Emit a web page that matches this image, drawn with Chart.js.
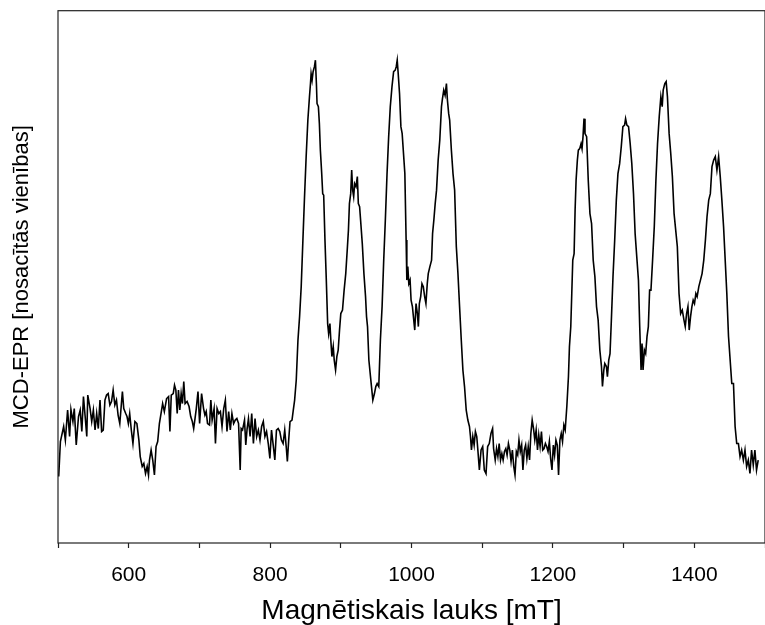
<!DOCTYPE html>
<html lang="lv">
<head>
<meta charset="UTF-8">
<title>MCD-EPR spektrs</title>
<script src="https://cdn.jsdelivr.net/npm/chart.js@4.4.4/dist/chart.umd.js"></script>
<style>
  html, body { margin: 0; padding: 0; overflow: hidden; background: #fff; }
</style>
</head>
<body>
<canvas id="myChart" width="780" height="625"></canvas>
<script>
// magnētiskais lauks, mT (nolasīts no attēla)
const fieldMT = [
  501.0, 503.4, 508.0, 510.4, 513.6, 516.4, 518.3, 521.1, 523.0, 525.8,
  529.0, 531.4, 533.7, 536.0, 538.4, 540.7, 542.1, 545.4, 547.7, 550.0,
  552.4, 554.7, 557.0, 559.4, 561.7, 564.0, 566.4, 568.7, 571.0, 573.4,
  575.7, 578.0, 580.4, 582.7, 585.0, 587.4, 589.7, 591.1, 593.0, 595.8,
  597.6, 599.5, 601.4, 603.7, 606.0, 608.8, 611.6, 614.4, 616.3, 619.1,
  621.4, 623.8, 626.1, 628.0, 629.4, 631.7, 634.0, 636.4, 638.7, 641.0,
  643.4, 645.7, 648.0, 650.4, 653.6, 656.4, 658.3, 660.2, 663.0, 664.8,
  666.7, 668.6, 670.4, 672.3, 674.2, 676.0, 677.9, 679.8, 682.6, 685.4,
  687.7, 690.0, 691.9, 693.8, 695.6, 698.0, 700.3, 703.1, 705.9, 707.8,
  709.6, 711.5, 714.3, 716.2, 718.0, 720.8, 722.7, 725.0, 727.4, 729.7,
  732.0, 734.4, 736.7, 739.0, 741.4, 743.7, 746.0, 748.4, 750.7, 753.0,
  755.4, 757.7, 759.1, 761.0, 763.8, 765.6, 767.5, 769.4, 771.7, 774.0,
  776.4, 778.7, 781.0, 783.4, 785.7, 788.0, 790.4, 792.7, 795.0, 797.4,
  799.7, 802.0, 804.4, 806.7, 809.0, 811.4, 813.7, 816.0, 818.4, 820.7,
  823.0, 824.4, 826.3, 828.2, 831.0, 832.8, 834.7,
  837.0, 839.4, 841.7, 844.0, 846.4, 848.7, 851.0, 853.4, 855.7, 857.1,
  858.0, 859.4, 860.8, 862.7, 864.1, 865.5, 866.4, 868.3, 869.7, 871.1,
  873.0, 874.4, 875.8, 877.6, 879.5, 881.4, 882.8, 884.6, 886.0, 887.4,
  889.3, 890.7, 892.6, 894.4, 896.3, 898.2, 900.0, 902.4, 904.7, 907.0,
  909.4, 910.8, 912.2, 914.0, 915.4, 916.8, 918.2, 919.6, 921.5, 923.4,
  924.8, 926.6, 928.0, 930.4, 932.7, 935.0, 936.4, 937.8, 939.7, 942.0,
  943.4, 945.3, 947.6, 949.5, 951.4, 953.7, 956.0, 958.4, 960.7, 963.0,
  965.4, 967.7, 970.0, 972.4, 974.7, 977.0, 978.4, 979.8, 981.2, 983.1,
  985.0, 986.8, 988.7, 990.6, 992.4, 993.4, 994.8, 996.2, 998.0, 999.4,
  1001.3, 1002.7, 1004.6, 1006.4, 1008.3, 1009.7, 1011.1, 1013.0, 1014.8, 1016.7,
  1018.6, 1020.4, 1022.3, 1023.7, 1026.0, 1028.4, 1029.8, 1031.6, 1033.5, 1035.4,
  1037.7, 1040.0, 1042.4, 1043.8, 1045.6, 1047.5, 1049.4, 1050.8, 1052.6, 1054.0,
  1056.4, 1058.7, 1061.0, 1063.4, 1065.7, 1068.0, 1070.4, 1072.7, 1075.0, 1077.4,
  1079.7, 1082.0, 1083.4, 1084.8, 1086.7, 1088.6, 1090.4, 1092.3, 1093.7, 1096.0,
  1098.4, 1100.7, 1103.0, 1105.4, 1107.7, 1110.0, 1112.4, 1114.7, 1116.1, 1118.4,
  1120.3, 1122.2, 1124.0, 1125.9, 1127.8, 1129.6, 1131.5, 1133.4, 1135.2, 1137.1,
  1139.0, 1140.8, 1142.7, 1144.6, 1146.4, 1148.3, 1150.2, 1152.0, 1153.9, 1155.8,
  1157.6, 1159.5, 1161.4, 1163.2, 1165.1, 1167.0, 1168.8, 1170.7, 1172.6, 1174.4,
  1176.3, 1178.2, 1180.0, 1181.9, 1183.8, 1185.6, 1187.5, 1189.4, 1191.2, 1193.1,
  1195.0, 1196.8, 1198.7, 1200.6, 1202.4, 1204.3, 1206.2, 1208.0, 1209.9, 1211.8,
  1213.6, 1215.5, 1217.4, 1219.7, 1222.0, 1223.4, 1225.3, 1226.7, 1228.1, 1230.0,
  1231.4, 1232.8, 1234.6, 1236.0, 1237.9, 1239.8, 1241.2, 1242.6, 1244.0, 1245.4,
  1247.7, 1250.0, 1252.4, 1254.7, 1257.0, 1259.4, 1261.7, 1264.0, 1266.4, 1268.7,
  1270.1, 1272.0, 1273.4, 1275.7, 1277.1, 1279.0, 1280.8, 1282.7, 1285.0, 1287.4,
  1289.7, 1292.0, 1294.4, 1296.7, 1299.0, 1301.4, 1302.8, 1304.6, 1307.0, 1309.3,
  1311.6, 1314.0, 1316.3, 1318.6, 1321.0, 1322.8, 1324.7, 1326.1, 1327.5, 1329.4,
  1331.2, 1333.1, 1335.0, 1336.8, 1338.7, 1341.0, 1343.4, 1345.7, 1348.0, 1350.4,
  1352.7, 1354.6, 1356.0, 1358.3, 1360.2, 1362.0, 1364.4, 1366.7, 1369.0, 1371.4,
  1373.7, 1376.0, 1378.4, 1380.7, 1383.0, 1385.4, 1387.2, 1389.1, 1391.0, 1392.8,
  1394.7, 1396.6, 1398.4, 1400.3, 1402.2, 1404.0, 1406.4, 1408.7, 1411.0, 1413.4,
  1415.7, 1418.0, 1420.4, 1422.7, 1425.0, 1427.4, 1429.7, 1432.0, 1434.4, 1436.7,
  1439.0, 1441.4, 1443.7, 1446.0, 1448.4, 1450.7, 1453.0, 1455.4, 1457.7, 1460.0,
  1462.4, 1464.7, 1467.0, 1469.4, 1471.7, 1474.0, 1476.4, 1478.7, 1481.0, 1483.4,
  1485.7, 1488.0, 1490.4
];

// MCD-EPR signāls, nosacītās vienības
const signal = [
  13.7, 20.7, 23.7, 21.0, 27.0, 21.7, 27.1, 24.7, 27.3, 20.0,
  25.7, 27.0, 22.7, 29.7, 25.7, 21.7, 30.0, 27.3, 24.7, 27.0,
  23.0, 26.3, 23.3, 29.0, 22.7, 23.0, 29.0, 30.0, 30.3, 28.0,
  28.7, 31.0, 28.0, 29.0, 26.0, 24.3, 28.3, 30.7, 27.3, 26.3,
  25.7, 24.3, 26.3, 23.0, 20.3, 24.7, 24.3, 21.0, 17.7, 15.7,
  16.3, 14.3, 15.7, 14.0, 17.0, 19.0, 17.0, 14.0, 19.7, 20.7,
  24.3, 26.3, 28.3, 26.7, 29.3, 29.7, 22.7, 30.0, 30.3, 32.0,
  31.0, 26.3, 31.0, 27.0, 30.3, 28.3, 32.7, 28.3, 28.7, 27.7,
  25.7, 24.7, 23.3, 25.3, 27.3, 30.7, 24.3, 30.3, 27.3, 26.0,
  26.7, 24.3, 24.0, 29.0, 25.0, 27.3, 20.3, 27.3, 26.3, 26.7,
  23.7, 27.3, 29.0, 22.7, 26.7, 23.0, 26.3, 24.3, 25.0, 25.3,
  24.3, 15.0, 23.3, 23.0, 25.0, 20.0, 23.3, 25.3, 21.7, 26.3,
  20.3, 25.3, 21.7, 23.0, 21.0, 23.7, 24.7, 21.7, 22.7, 20.3,
  17.3, 23.0, 20.0, 17.0, 23.0, 23.3, 22.7, 21.0, 20.3, 23.0,
  19.3, 16.7, 21.0, 24.7, 25.0, 27.0, 29.0,
  33.0, 41.0, 45.7, 51.7, 61.0, 69.7, 77.7, 85.0, 89.7, 92.3,
  94.3, 93.0, 94.7, 95.7, 97.0, 92.3, 88.3, 87.7, 84.3, 79.0,
  74.3, 70.3, 70.0, 61.0, 53.0, 44.3, 42.3, 44.3, 40.7, 37.7,
  39.7, 37.0, 35.0, 37.7, 39.0, 43.0, 46.3, 47.0, 51.0, 54.3,
  59.7, 63.0, 68.3, 70.3, 75.0, 71.0, 69.7, 72.3, 71.7, 73.7,
  68.3, 67.7, 65.0, 60.3, 54.3, 49.7, 45.7, 43.7, 37.0, 33.7,
  31.7, 29.0, 30.3, 31.7, 32.3, 31.7, 41.0, 47.7, 57.0, 65.0,
  74.3, 81.7, 87.7, 91.7, 94.7, 95.0, 95.7, 97.0, 94.3, 90.3,
  83.7, 82.3, 78.3, 74.3, 61.0, 53.0, 55.7, 52.3, 53.0, 49.0,
  47.7, 45.7, 43.0, 48.3, 46.3, 43.7, 48.3, 49.7, 52.3, 51.7,
  49.7, 48.3, 52.3, 54.3, 55.7, 57.0, 62.3, 65.0, 68.3, 71.0,
  77.0, 81.0, 87.7, 89.3, 91.0, 90.0, 92.3, 89.0, 86.3, 85.0,
  79.0, 74.3, 71.0, 59.7, 54.3, 47.7, 41.0, 35.0, 31.7, 27.0,
  25.0, 23.7, 21.7, 19.0, 21.7, 20.0, 22.7, 21.7, 19.3, 15.0,
  19.0, 19.7, 15.0, 14.3, 19.7, 20.3, 22.3, 23.3, 19.3, 17.0,
  19.3, 17.7, 20.3, 17.0, 18.3, 17.0, 18.7, 19.3, 18.0, 20.3,
  19.0, 16.7, 19.0, 15.7, 14.0, 18.7, 18.0, 21.0, 18.7, 20.0,
  15.0, 19.0, 20.0, 17.3, 19.7, 17.0, 22.3, 25.0, 23.3, 21.0,
  23.0, 19.0, 22.0, 19.7, 22.7, 19.0, 19.3, 20.3, 19.7, 18.7,
  20.7, 17.3, 15.0, 20.0, 18.0, 21.0, 20.0, 14.0, 21.0, 22.3,
  20.7, 24.0, 23.0, 27.7, 33.7, 39.7, 43.7, 50.3, 57.0, 58.3,
  67.0, 73.0, 77.0, 79.0, 79.3, 80.3, 79.3, 81.7, 85.3, 82.3,
  81.7, 73.0, 66.3, 64.3, 57.0, 53.7, 47.7, 45.0, 39.0, 35.7,
  31.7, 35.0, 36.3, 35.7, 33.7, 37.0, 38.3, 45.0, 53.7, 61.0,
  69.0, 74.3, 76.3, 79.7, 83.7, 84.0, 85.3, 84.0, 83.7, 80.3,
  76.3, 70.3, 62.3, 57.7, 53.0, 43.7, 35.0, 40.3, 35.0, 39.0,
  38.3, 41.7, 43.7, 51.0, 51.0, 57.0, 63.7, 73.0, 80.3, 85.7,
  89.7, 87.7, 91.0, 92.3, 92.7, 89.7, 82.3, 78.3, 73.7, 66.3,
  63.0, 59.7, 50.3, 46.3, 47.0, 45.0, 43.7, 46.3, 47.7, 43.0,
  45.7, 47.7, 49.0, 48.3, 50.3, 49.7, 51.7, 53.0, 54.3, 57.0,
  61.0, 65.7, 69.0, 70.3, 75.7, 77.0, 77.7, 75.0, 77.7, 73.7,
  69.0, 63.7, 57.0, 50.3, 41.7, 37.0, 32.3, 32.3, 23.7, 20.3,
  20.3, 17.7, 19.0, 17.0, 19.0, 15.7, 17.0, 14.3, 19.0, 16.0,
  19.0, 15.0, 17.0
];

const xMin = 500, xMax = 1500, xStep = 100, xLabelStep = 200;
const yMin = 0.4, yMax = 106.9;

Chart.defaults.font.family = '"Liberation Sans", Arial, sans-serif';
Chart.defaults.color = '#000';

// rāmis ap zīmēšanas laukumu
const frame = {
  id: 'frame',
  afterDraw(chart) {
    const { ctx, chartArea: a } = chart;
    ctx.save();
    ctx.strokeStyle = '#222';
    ctx.lineWidth = 1.2;
    ctx.strokeRect(a.left, a.top, a.right - a.left, a.bottom - a.top);
    ctx.restore();
  }
};

const ctx = document.getElementById('myChart').getContext('2d');
new Chart(ctx, {
  type: 'scatter',
  data: {
    datasets: [{
      data: fieldMT.map((x, i) => ({ x: x, y: signal[i] })),
      showLine: true,
      borderColor: '#000',
      borderWidth: 1.6,
      pointRadius: 0,
      tension: 0
    }]
  },
  options: {
    responsive: false,
    animation: false,
    devicePixelRatio: 1,
    layout: { padding: { top: 10.7, right: 7.5, left: 0, bottom: 0 } },
    plugins: { legend: { display: false }, tooltip: { enabled: false } },
    scales: {
      x: {
        type: 'linear',
        min: xMin,
        max: xMax,
        border: { display: false },
        grid: { drawOnChartArea: false, drawTicks: true, tickLength: 5, tickColor: '#222', tickWidth: 1.2 },
        ticks: {
          stepSize: xStep,
          autoSkip: false,
          maxRotation: 0,
          padding: 15,
          font: { size: 21 },
          callback: v => (v % xLabelStep === 0 && v > xMin && v < xMax) ? v : ''
        },
        title: {
          display: true,
          text: 'Magnētiskais lauks [mT]',
          font: { size: 28, lineHeight: 1.0 },
          padding: { top: 10, bottom: 0 }
        },
        afterFit(scale) { scale.height = 82; }
      },
      y: {
        min: yMin,
        max: yMax,
        border: { display: false },
        grid: { display: false },
        ticks: { display: false },
        title: {
          display: true,
          text: 'MCD-EPR [nosacītās vienības]',
          font: { size: 22, lineHeight: 1.2 },
          padding: { top: 8.8, bottom: 22.8 }
        },
        afterFit(scale) { scale.width = 58; }
      }
    }
  },
  plugins: [frame]
});
</script>
</body>
</html>
